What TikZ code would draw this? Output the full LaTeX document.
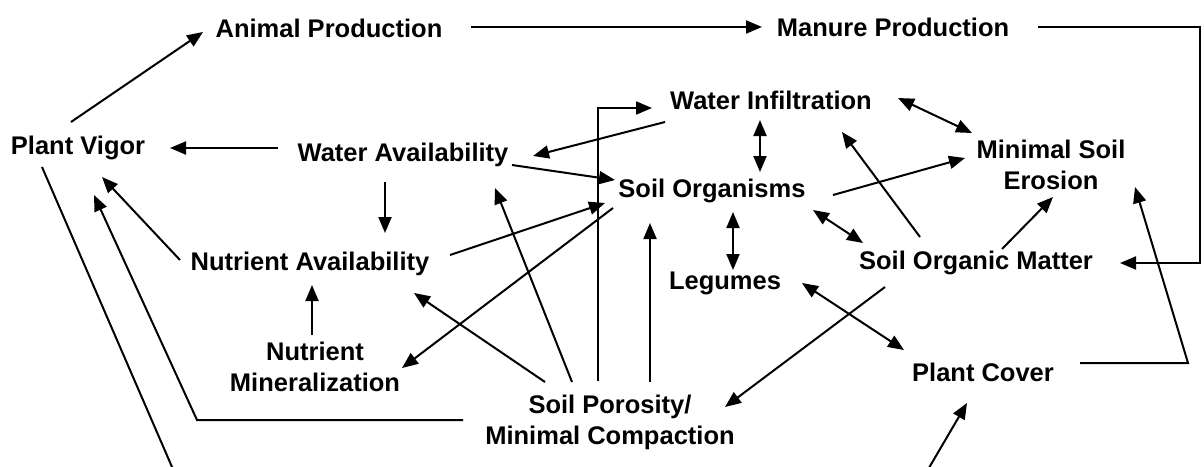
\documentclass[tikz,border=0pt]{standalone}
\usepackage{fontspec}
\setmainfont{Liberation Sans}
\usetikzlibrary{arrows.meta}

\begin{document}
\begin{tikzpicture}[x=1pt,y=-1pt,
  lbl/.style={font=\bfseries\fontsize{25.5}{31}\selectfont, align=center, inner sep=0pt},
  conn/.style={line width=2pt, >={Triangle[length=16pt,width=13pt]}}]
\useasboundingbox (0,0) rectangle (1204,466);
\clip (0,0) rectangle (1204,466);

\node[lbl] (ap) at (329,28) {Animal Production};
\node[lbl] (mp) at (893,27) {Manure Production};
\node[lbl] (pv) at (78,148) {Plant Vigor};
\node[lbl] (wa) at (403,155) {Water Availability};
\node[lbl] (wi) at (771,100) {Water Infiltration};
\node[lbl] (mse) at (1051,165) {Minimal Soil\\Erosion};
\node[lbl] (so) at (712,191) {Soil Organisms};
\node[lbl] (na) at (310,264) {Nutrient Availability};
\node[lbl] (som) at (976,263) {Soil Organic Matter};
\node[lbl] (leg) at (725,283) {Legumes};
\node[lbl] (nm) at (315,367) {Nutrient\\Mineralization};
\node[lbl] (sp) at (610,422) {Soil Porosity/\\Minimal Compaction};
\node[lbl] (pc) at (983,372) {Plant Cover};

\foreach \src/\sx/\sy/\dst/\dx/\dy in {pv/-7/-26/ap/-126/4, ap/142/-1/mp/-131/0,
  wa/-125/-7/pv/92/0, wa/-18/27/na/75/-31, na/-130/-4/pv/24/29,
  wi/-106/22/wa/130/1, wa/109/10/so/-97/-11, sp/40/-40/so/-62/32,
  na/140/-9/so/-107/12, so/-99/17/nm/87/1, sp/-38/-40/wa/92/33,
  sp/-65/-40/na/104/29, so/121/4/mse/-86/-7, som/-56/-26/wi/71/32,
  som/26/-14/mse/2/32, som/-91/24/sp/115/-15, nm/-3/-32/na/2/21}
  \draw[conn,->] ([shift={(\sx,\sy)}]\src.center) -- ([shift={(\dx,\dy)}]\dst.center);

\foreach \src/\sx/\sy/\dst/\dx/\dy in {wi/-11/20/so/48/-19, wi/127/-2/mse/-79/-32,
  so/101/19/som/-113/-20, so/21/21/leg/8/-13, leg/77/0/pc/-79/-22}
  \draw[conn,<->] ([shift={(\sx,\sy)}]\src.center) -- ([shift={(\dx,\dy)}]\dst.center);

\draw[conn,->] ([shift={(145,0)}]mp.center) -- ++(162,0) |- ([shift={(144,0)}]som.center);
\draw[conn,->] ([shift={(-147,-2)}]sp.center) -- ++(-266,0) -- ([shift={(16,47)}]pv.center);
\draw[conn,->] ([shift={(-36,19)}]pv.center) -- ++(140,323) -- ++(734,0) -- ([shift={(-16,31)}]pc.center);
\draw[conn,->] ([shift={(-12,-41)}]sp.center) |- ([shift={(-119,8)}]wi.center);
\draw[conn,->] ([shift={(97,-9)}]pc.center) -- ++(108,0) -- ([shift={(84,22)}]mse.center);
\end{tikzpicture}
\end{document}
